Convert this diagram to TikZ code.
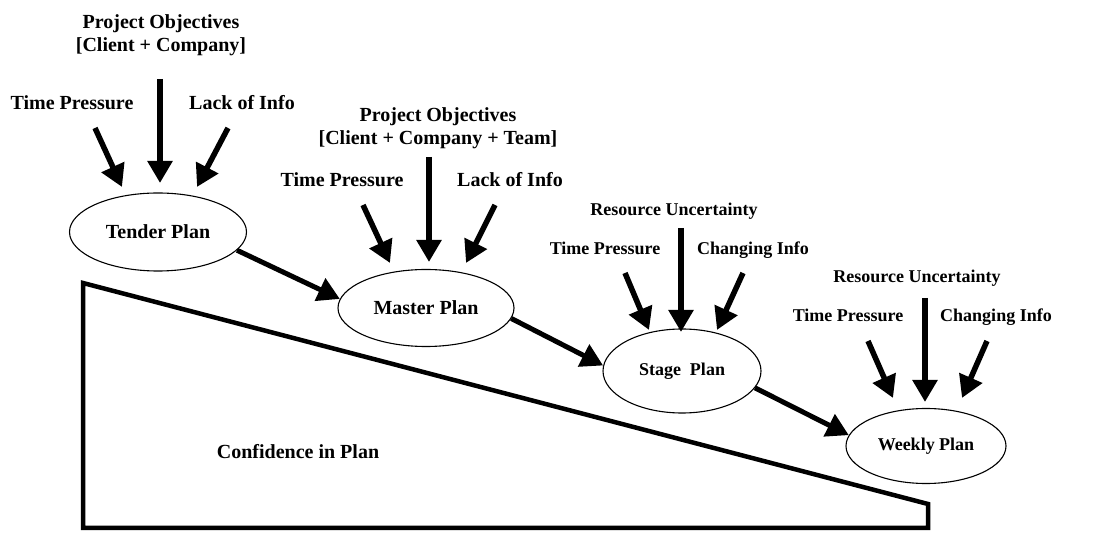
\documentclass[tikz,border=0pt]{standalone}
\usepackage{fontspec}
\setmainfont{Liberation Serif}
\usetikzlibrary{arrows.meta,shapes.geometric}

\begin{document}
\begin{tikzpicture}[x=1pt,y=-1pt,line join=miter,
  lbl/.style={font=\bfseries\fontsize{20}{23}\selectfont,align=center,inner sep=0pt},
  lbls/.style={font=\bfseries\fontsize{18}{21}\selectfont,align=center,inner sep=0pt},
  plan/.style={draw,ellipse,line width=1.1pt,inner sep=0pt},
  feed/.style={line width=5.5pt,-{Triangle[length=22pt,width=24pt]}},
  flow/.style={line width=5pt,-{Triangle[length=22pt,width=24pt]}}]
\useasboundingbox (0,0) rectangle (1120,534);

% plans
\node[plan,lbl,minimum width=177pt,minimum height=78pt] (tender) at (158,232) {Tender Plan};
\node[plan,lbl,minimum width=176pt,minimum height=77pt] (master) at (426,308) {Master Plan};
\node[plan,lbls,minimum width=158pt,minimum height=84pt] (stage) at (682,371) {Stage\ \ Plan};
\node[plan,lbls,minimum width=160pt,minimum height=75pt] (weekly) at (926,446) {Weekly Plan};

% influences
\node[lbl,anchor=base] (obj1) at (161,52) {Project Objectives\\{[Client + Company]}};
\node[lbl,anchor=base] (tp1) at (72,110) {Time Pressure};
\node[lbl,anchor=base] (li1) at (242,110) {Lack of Info};
\node[lbl,anchor=base] (obj2) at (438,145) {Project Objectives\\{[Client + Company + Team]}};
\node[lbl,anchor=base] (tp2) at (342,187) {Time Pressure};
\node[lbl,anchor=base] (li2) at (510,187) {Lack of Info};
\node[lbls,anchor=base] (ru3) at (674,216) {Resource Uncertainty};
\node[lbls,anchor=base] (tp3) at (605,255) {Time Pressure};
\node[lbls,anchor=base] (ci3) at (753,255) {Changing Info};
\node[lbls,anchor=base] (ru4) at (917,283) {Resource Uncertainty};
\node[lbls,anchor=base] (tp4) at (848,322) {Time Pressure};
\node[lbls,anchor=base] (ci4) at (996,322) {Changing Info};

% arrow ends
\coordinate (tp1a) at (95,128);  \coordinate (tp1b) at (122,187);
\coordinate (ob1a) at (160,79);  \coordinate (ob1b) at (160,183);
\coordinate (li1a) at (228,128); \coordinate (li1b) at (197,187);
\coordinate (tp2a) at (363,205); \coordinate (tp2b) at (390,263);
\coordinate (ob2a) at (429,157); \coordinate (ob2b) at (429,262);
\coordinate (li2a) at (495,205); \coordinate (li2b) at (466,263);
\coordinate (tp3a) at (625,273); \coordinate (tp3b) at (649,330);
\coordinate (ru3a) at (681,228); \coordinate (ru3b) at (681,332);
\coordinate (ci3a) at (743,273); \coordinate (ci3b) at (717,330);
\coordinate (tp4a) at (868,341); \coordinate (tp4b) at (893,398);
\coordinate (ru4a) at (925,298); \coordinate (ru4b) at (925,402);
\coordinate (ci4a) at (987,341); \coordinate (ci4b) at (962,398);

\draw[feed] (tp1a) -- (tp1b);
\draw[feed] (ob1a) -- (ob1b);
\draw[feed] (li1a) -- (li1b);
\draw[feed] (tp2a) -- (tp2b);
\draw[feed] (ob2a) -- (ob2b);
\draw[feed] (li2a) -- (li2b);
\draw[feed] (tp3a) -- (tp3b);
\draw[feed] (ru3a) -- (ru3b);
\draw[feed] (ci3a) -- (ci3b);
\draw[feed] (tp4a) -- (tp4b);
\draw[feed] (ru4a) -- (ru4b);
\draw[feed] (ci4a) -- (ci4b);

% plan to plan
\draw[flow] (tender.-13) -- (master.174);
\draw[flow] (master.-7) -- (stage.176);
\draw[flow] (stage.-13) -- (weekly.172);

% confidence wedge
\draw[line width=4.5pt] (83,283) -- (83,528) -- (928,528) -- (928,504) -- cycle;
\node[lbl] (conf) at (298,452) {Confidence in Plan};
\end{tikzpicture}
\end{document}
